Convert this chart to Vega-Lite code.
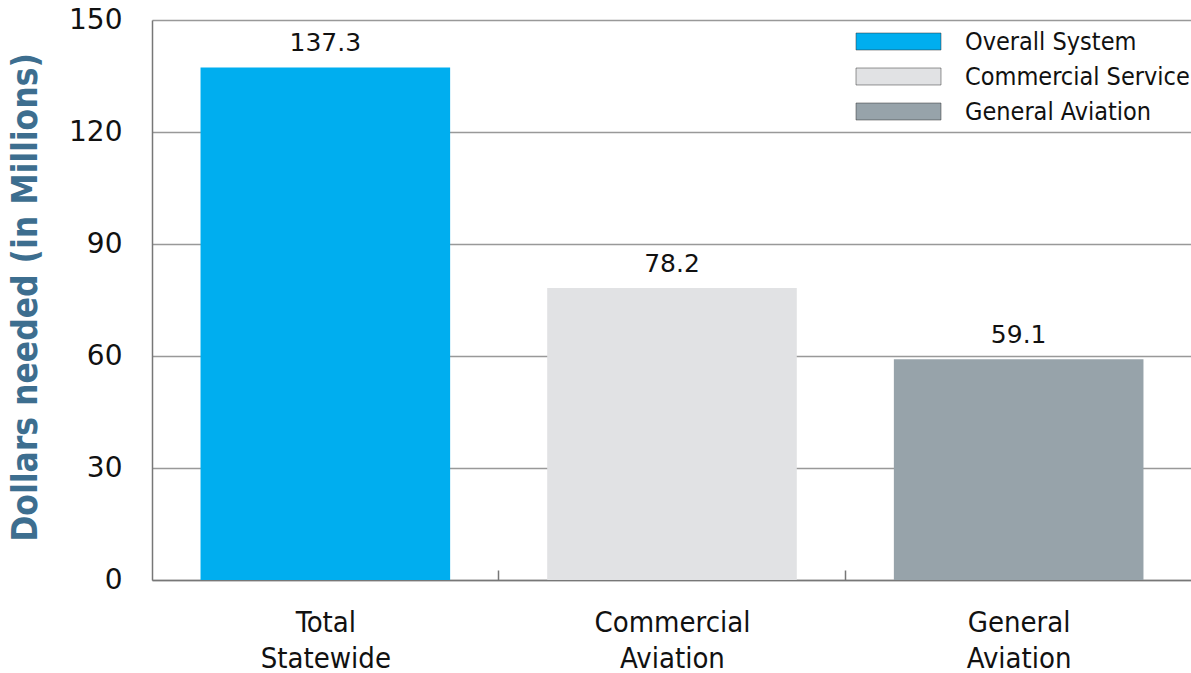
{
  "$schema": "https://vega.github.io/schema/vega-lite/v6.json",
  "width": 1040,
  "height": 560,
  "autosize": "none",
  "padding": {"left": 152, "top": 20, "right": 0, "bottom": 93},
  "background": "white",
  "config": {"view": {"stroke": null}},
  "data": {
    "values": [
      {"category": "Total Statewide", "system": "Overall System", "value": 137.3},
      {"category": "Commercial Aviation", "system": "Commercial Service", "value": 78.2},
      {"category": "General Aviation", "system": "General Aviation", "value": 59.1}
    ]
  },
  "encoding": {
    "x": {
      "field": "category",
      "type": "nominal",
      "sort": null,
      "scale": {"paddingInner": 0.28, "paddingOuter": 0.14},
      "axis": {
        "title": null,
        "labelAngle": 0,
        "labelExpr": "split(datum.label, ' ')",
        "labelFont": "DejaVu Sans Condensed",
        "labelFontSize": 29,
        "labelLineHeight": 36,
        "labelColor": "#111",
        "labelPadding": 38,
        "labelBaseline": "top",
        "tickOffset": 173,
        "labelOffset": -173,
        "tickSize": -10,
        "tickColor": "#777",
        "tickWidth": 1.5,
        "domainColor": "#777",
        "domainWidth": 1.5
      }
    },
    "y": {
      "field": "value",
      "type": "quantitative",
      "scale": {"domain": [0, 150]},
      "axis": {
        "values": [0, 30, 60, 90, 120, 150],
        "title": "Dollars needed (in Millions)",
        "titleFont": "DejaVu Sans Condensed",
        "titleFontWeight": "bold",
        "titleFontSize": 35,
        "titleColor": "#3d6e8f",
        "titleAngle": -90,
        "titleX": -127,
        "titleY": 277,
        "titleAlign": "center",
        "titleBaseline": "middle",
        "labelFont": "DejaVu Sans",
        "labelFontSize": 28,
        "labelColor": "#111",
        "labelPadding": 30,
        "ticks": false,
        "grid": true,
        "gridColor": "#999",
        "gridWidth": 1.5,
        "domainColor": "#777",
        "domainWidth": 1.5
      }
    }
  },
  "layer": [
    {
      "mark": {"type": "bar"},
      "encoding": {
        "color": {
          "field": "system",
          "type": "nominal",
          "sort": null,
          "scale": {
            "domain": ["Overall System", "Commercial Service", "General Aviation"],
            "range": ["#00aeef", "#e1e2e4", "#97a3aa"]
          },
          "legend": {
            "title": null,
            "orient": "none",
            "legendX": 725,
            "legendY": 0,
            "padding": 0,
            "symbolType": "M-2,-0.4L2,-0.4L2,0.4L-2,0.4Z",
            "symbolSize": 1806,
            "symbolStrokeColor": "#333",
            "symbolStrokeWidth": 0.5,
            "labelFont": "DejaVu Sans Condensed",
            "labelFontSize": 25,
            "labelLimit": 400,
            "labelColor": "#111",
            "labelOffset": 45,
            "rowPadding": 0
          }
        }
      }
    },
    {
      "mark": {"type": "text", "dy": -24, "font": "DejaVu Sans", "fontSize": 25, "color": "#111"},
      "encoding": {
        "text": {"field": "value", "type": "quantitative", "format": ".1f"}
      }
    }
  ]
}
